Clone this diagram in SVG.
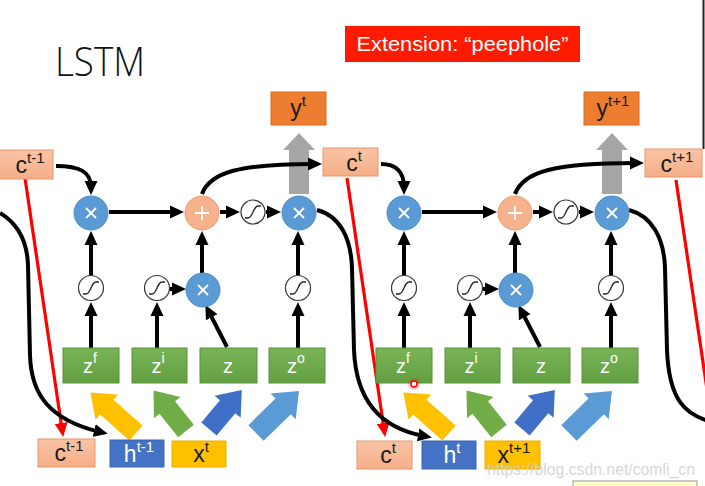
<svg xmlns="http://www.w3.org/2000/svg" width="705" height="486" viewBox="0 0 705 486">
<defs>
<marker id="ah" markerUnits="userSpaceOnUse" markerWidth="14" markerHeight="14" viewBox="0 0 14 14" refX="6" refY="7" orient="auto"><path d="M0,0.5 L14,7 L0,13.5 Z" fill="#000"/></marker>
<marker id="ahr" markerUnits="userSpaceOnUse" markerWidth="14" markerHeight="14" viewBox="0 0 14 14" refX="6" refY="7" orient="auto"><path d="M0,0.5 L14,7 L0,13.5 Z" fill="#FF0000"/></marker>
<linearGradient id="gGreen" x1="0" y1="0" x2="0" y2="1"><stop offset="0" stop-color="#79B556"/><stop offset="1" stop-color="#629F42"/></linearGradient>
<linearGradient id="gSalmon" x1="0" y1="0" x2="0" y2="1"><stop offset="0" stop-color="#F9C4A5"/><stop offset="1" stop-color="#F5AE87"/></linearGradient>
</defs>
<style>
.t{font-family:"Liberation Sans",Arial,sans-serif}
.conn{fill:none;stroke:#000;stroke-width:4}
.red{fill:none;stroke:#FF0000;stroke-width:3.2}
.mul{fill:#5B9BD5;stroke:#4E8CC6;stroke-width:1}
.plus{fill:#F6B28C;stroke:#EE9B6E;stroke-width:1}
.sig{fill:#fff;stroke:#333;stroke-width:1.2}
.sigc{fill:none;stroke:#222;stroke-width:1.3}
.sym{stroke:#fff;stroke-width:1.8;fill:none}
.zbox{fill:url(#gGreen);stroke:#5B8F3B;stroke-width:1}
.cbox{fill:url(#gSalmon);stroke:#E8956A;stroke-width:1}
.ybox{fill:#ED7D31;stroke:#D86A20;stroke-width:1}
.hbox{fill:#4472C4;stroke:#3A64B0;stroke-width:1}
.xbox{fill:#FFC000;stroke:#E8AE00;stroke-width:1}
.gray{fill:#A6A6A6}
.zt{font-size:20px;fill:#fff}
.lbl{font-size:23px;fill:#1a1a1a}
.wl{font-size:23px;fill:#fff}
.sup{font-size:15px}
.zs{font-size:14px}
</style>

<rect x="0" y="0" width="705" height="486" fill="#fff"/>
<line x1="703.5" y1="0" x2="703.5" y2="149" stroke="#222" stroke-width="2"/>

<g id="title"><text x="55" y="76" font-family="'Open Sans','Liberation Sans',sans-serif" font-weight="300" font-size="40" textLength="90" lengthAdjust="spacingAndGlyphs" fill="#111">LSTM</text></g>
<g id="extension">
<rect x="345" y="26" width="235" height="36" fill="#FF1A00"/>
<text class="t" x="462.5" y="51" text-anchor="middle" font-size="20" fill="#fff" textLength="212" lengthAdjust="spacingAndGlyphs">Extension: “peephole”</text>
</g>

<!-- fat input arrows -->
<g id="fat-arrows">
<path d="M-10,0 V-39 H-17 L0,-61 L17,-39 H10 V0 Z" fill="#FFC000" transform="translate(136,433) rotate(-48.4)"/>
<path d="M-10,0 V-30 H-17 L0,-52 L17,-30 H10 V0 Z" fill="#70AD47" transform="translate(186,431) rotate(-38.7)"/>
<path d="M-10,0 V-29 H-17 L0,-51 L17,-29 H10 V0 Z" fill="#3F6FC6" transform="translate(209,429) rotate(40)"/>
<path d="M-11,0 V-38 H-18 L0,-60 L18,-38 H11 V0 Z" fill="#5B9BD5" transform="translate(256,433) rotate(45.7)"/>
<path d="M-10,0 V-39 H-17 L0,-61 L17,-39 H10 V0 Z" fill="#FFC000" transform="translate(449,433) rotate(-48.4)"/>
<path d="M-10,0 V-30 H-17 L0,-52 L17,-30 H10 V0 Z" fill="#70AD47" transform="translate(499,431) rotate(-38.7)"/>
<path d="M-10,0 V-29 H-17 L0,-51 L17,-29 H10 V0 Z" fill="#3F6FC6" transform="translate(522,429) rotate(40)"/>
<path d="M-11,0 V-38 H-18 L0,-60 L18,-38 H11 V0 Z" fill="#5B9BD5" transform="translate(569,433) rotate(45.7)"/>
</g>

<!-- output gray arrows -->
<g id="out-arrow1"><path class="gray" d="M289,194 V150 H283 L299,133 L315,150 H309 V194 Z"/></g>
<g id="out-arrow2"><path class="gray" d="M602,194 V150 H596 L612,133 L628,150 H622 V194 Z"/></g>

<!-- connectors -->
<g id="connectors">
<path class="red" d="M25,178 L62,429" marker-end="url(#ahr)"/>
<path class="red" d="M347,178 L384,429" marker-end="url(#ahr)"/>
<path class="red" d="M676,180 L716,450"/>
<path class="conn" d="M0,213 C15,222 27,238 28,265 L30,355 C31,395 50,420 100,432" marker-end="url(#ah)"/>
<path class="conn" d="M317,210 C340,216 351,238 352,268 L354,350 C356,400 380,428 424,436" marker-end="url(#ah)"/>
<path class="conn" d="M629,210 C652,216 664,238 665,268 L667,350 C669,400 685,415 712,422"/>

<path class="conn" d="M56,166 C80,166 91,172 91,187" marker-end="url(#ah)"/>
<path class="conn" d="M109,212 L176,212" marker-end="url(#ah)"/>
<path class="conn" d="M220,212 L232,212" marker-end="url(#ah)"/>
<path class="conn" d="M266,212 L273,212" marker-end="url(#ah)"/>
<path class="conn" d="M202,194 C210,172 240,164 314,164" marker-end="url(#ah)"/>
<path class="conn" d="M91,275 L91,239" marker-end="url(#ah)"/>
<path class="conn" d="M91,348 L91,310" marker-end="url(#ah)"/>
<path class="conn" d="M157,348 L157,310" marker-end="url(#ah)"/>
<path class="conn" d="M170,289 L178,289" marker-end="url(#ah)"/>
<path class="conn" d="M202,273 L202,239" marker-end="url(#ah)"/>
<path class="conn" d="M227,347 L209,312" marker-end="url(#ah)"/>
<path class="conn" d="M298,348 L298,310" marker-end="url(#ah)"/>
<path class="conn" d="M298,275 L298,239" marker-end="url(#ah)"/>

<path class="conn" d="M381,164 C396,164 404,172 404,187" marker-end="url(#ah)"/>
<path class="conn" d="M422,212 L489,212" marker-end="url(#ah)"/>
<path class="conn" d="M533,212 L545,212" marker-end="url(#ah)"/>
<path class="conn" d="M579,212 L586,212" marker-end="url(#ah)"/>
<path class="conn" d="M515,194 C523,172 553,163 636,163" marker-end="url(#ah)"/>
<path class="conn" d="M404,275 L404,239" marker-end="url(#ah)"/>
<path class="conn" d="M404,348 L404,310" marker-end="url(#ah)"/>
<path class="conn" d="M470,348 L470,310" marker-end="url(#ah)"/>
<path class="conn" d="M483,289 L491,289" marker-end="url(#ah)"/>
<path class="conn" d="M515,273 L515,239" marker-end="url(#ah)"/>
<path class="conn" d="M540,347 L522,312" marker-end="url(#ah)"/>
<path class="conn" d="M611,348 L611,310" marker-end="url(#ah)"/>
<path class="conn" d="M611,275 L611,239" marker-end="url(#ah)"/>
</g>

<!-- cell 1 nodes -->
<g id="c_tm1_top"><rect class="cbox" x="-2" y="150" width="55" height="29"/><text class="t lbl" x="30" y="173" text-anchor="middle">c<tspan class="sup" dy="-10">t-1</tspan></text></g>
<g id="mulF1" transform="translate(91,213)"><circle class="mul" r="17"/><path class="sym" d="M-5,-5 L5,5 M5,-5 L-5,5"/></g>
<g id="plus1" transform="translate(202,213)"><circle class="plus" r="17"/><path class="sym" stroke-width="1.3" d="M-7,0 H7 M0,-7 V7"/></g>
<g id="sigC1" transform="translate(253,212)"><circle class="sig" r="12"/><path class="sigc" d="M-8,6 L-5,6 C0,6 0,-6 5,-6 L8,-6"/></g>
<g id="mulO1" transform="translate(299,213)"><circle class="mul" r="17"/><path class="sym" d="M-5,-5 L5,5 M5,-5 L-5,5"/></g>
<g id="sigF1" transform="translate(91,288)"><circle class="sig" r="12.5"/><path class="sigc" d="M-8,6 L-5,6 C0,6 0,-6 5,-6 L8,-6"/></g>
<g id="sigI1" transform="translate(157,288)"><circle class="sig" r="12.5"/><path class="sigc" d="M-8,6 L-5,6 C0,6 0,-6 5,-6 L8,-6"/></g>
<g id="mulI1" transform="translate(203,290)"><circle class="mul" r="17"/><path class="sym" d="M-5,-5 L5,5 M5,-5 L-5,5"/></g>
<g id="sigO1" transform="translate(298,288)"><circle class="sig" r="12.5"/><path class="sigc" d="M-8,6 L-5,6 C0,6 0,-6 5,-6 L8,-6"/></g>
<g id="zf1"><rect class="zbox" x="63" y="348" width="56" height="35"/><text class="t zt" x="90" y="373" text-anchor="middle">z<tspan class="zs" dy="-10">f</tspan></text></g>
<g id="zi1"><rect class="zbox" x="132" y="348" width="55" height="35"/><text class="t zt" x="158" y="373" text-anchor="middle">z<tspan class="zs" dy="-10">i</tspan></text></g>
<g id="z1"><rect class="zbox" x="200" y="348" width="57" height="35"/><text class="t zt" x="228" y="373" text-anchor="middle">z</text></g>
<g id="zo1"><rect class="zbox" x="269" y="348" width="56" height="35"/><text class="t zt" x="296" y="373" text-anchor="middle">z<tspan class="zs" dy="-10">o</tspan></text></g>
<g id="y1"><rect class="ybox" x="271" y="92" width="55" height="33"/><text class="t lbl" x="298" y="116" text-anchor="middle">y<tspan class="sup" dy="-10">t</tspan></text></g>
<g id="ct_top"><rect class="cbox" x="323" y="148" width="55" height="28"/><text class="t lbl" x="354" y="171" text-anchor="middle">c<tspan class="sup" dy="-10">t</tspan></text></g>
<g id="c_tm1_bot"><rect class="cbox" x="38" y="439" width="57" height="28"/><text class="t lbl" x="69" y="461" text-anchor="middle">c<tspan class="sup" dy="-10">t-1</tspan></text></g>
<g id="h_tm1"><rect class="hbox" x="110" y="440" width="54" height="27"/><text class="t wl" x="139" y="462" text-anchor="middle">h<tspan class="sup" dy="-10">t-1</tspan></text></g>
<g id="x_t"><rect class="xbox" x="172" y="441" width="54" height="26"/><text class="t lbl" x="201" y="462" text-anchor="middle">x<tspan class="sup" dy="-10">t</tspan></text></g>

<!-- cell 2 nodes -->
<g id="mulF2" transform="translate(404,213)"><circle class="mul" r="17"/><path class="sym" d="M-5,-5 L5,5 M5,-5 L-5,5"/></g>
<g id="plus2" transform="translate(515,213)"><circle class="plus" r="17"/><path class="sym" stroke-width="1.3" d="M-7,0 H7 M0,-7 V7"/></g>
<g id="sigC2" transform="translate(566,212)"><circle class="sig" r="12"/><path class="sigc" d="M-8,6 L-5,6 C0,6 0,-6 5,-6 L8,-6"/></g>
<g id="mulO2" transform="translate(612,213)"><circle class="mul" r="17"/><path class="sym" d="M-5,-5 L5,5 M5,-5 L-5,5"/></g>
<g id="sigF2" transform="translate(404,288)"><circle class="sig" r="12.5"/><path class="sigc" d="M-8,6 L-5,6 C0,6 0,-6 5,-6 L8,-6"/></g>
<g id="sigI2" transform="translate(470,288)"><circle class="sig" r="12.5"/><path class="sigc" d="M-8,6 L-5,6 C0,6 0,-6 5,-6 L8,-6"/></g>
<g id="mulI2" transform="translate(516,290)"><circle class="mul" r="17"/><path class="sym" d="M-5,-5 L5,5 M5,-5 L-5,5"/></g>
<g id="sigO2" transform="translate(611,288)"><circle class="sig" r="12.5"/><path class="sigc" d="M-8,6 L-5,6 C0,6 0,-6 5,-6 L8,-6"/></g>
<g id="zf2"><rect class="zbox" x="376" y="348" width="56" height="35"/><text class="t zt" x="403" y="373" text-anchor="middle">z<tspan class="zs" dy="-10">f</tspan></text></g>
<g id="zi2"><rect class="zbox" x="445" y="348" width="55" height="35"/><text class="t zt" x="471" y="373" text-anchor="middle">z<tspan class="zs" dy="-10">i</tspan></text></g>
<g id="z2"><rect class="zbox" x="513" y="348" width="57" height="35"/><text class="t zt" x="541" y="373" text-anchor="middle">z</text></g>
<g id="zo2"><rect class="zbox" x="582" y="348" width="56" height="35"/><text class="t zt" x="609" y="373" text-anchor="middle">z<tspan class="zs" dy="-10">o</tspan></text></g>
<g id="y2"><rect class="ybox" x="584" y="92" width="55" height="33"/><text class="t lbl" x="613" y="116" text-anchor="middle">y<tspan class="sup" dy="-10">t+1</tspan></text></g>
<g id="ctp1_top"><rect class="cbox" x="645" y="149" width="57" height="28"/><text class="t lbl" x="677" y="172" text-anchor="middle">c<tspan class="sup" dy="-10">t+1</tspan></text></g>
<g id="ct_bot"><rect class="cbox" x="357" y="441" width="55" height="28"/><text class="t lbl" x="388" y="463" text-anchor="middle">c<tspan class="sup" dy="-10">t</tspan></text></g>
<g id="h_t"><rect class="hbox" x="422" y="441" width="54" height="28"/><text class="t wl" x="452" y="463" text-anchor="middle">h<tspan class="sup" dy="-10">t</tspan></text></g>
<g id="x_tp1"><rect class="xbox" x="485" y="441" width="55" height="28"/><text class="t lbl" x="514" y="463" text-anchor="middle">x<tspan class="sup" dy="-10">t+1</tspan></text></g>

<!-- extras -->
<g id="cursor"><circle cx="414" cy="384" r="6" fill="#FF0000" opacity="0.2"/><circle cx="414" cy="384" r="3" fill="#fff" stroke="#FF0000" stroke-width="1.5"/></g>
<rect x="573" y="481" width="124" height="10" fill="#FFFFCC" stroke="#999" stroke-width="1"/>
<text class="t" x="487" y="475" font-size="17" fill="#cfcfcf" fill-opacity="0.85" textLength="208" lengthAdjust="spacingAndGlyphs">https://blog.csdn.net/comli_cn</text>
</svg>
